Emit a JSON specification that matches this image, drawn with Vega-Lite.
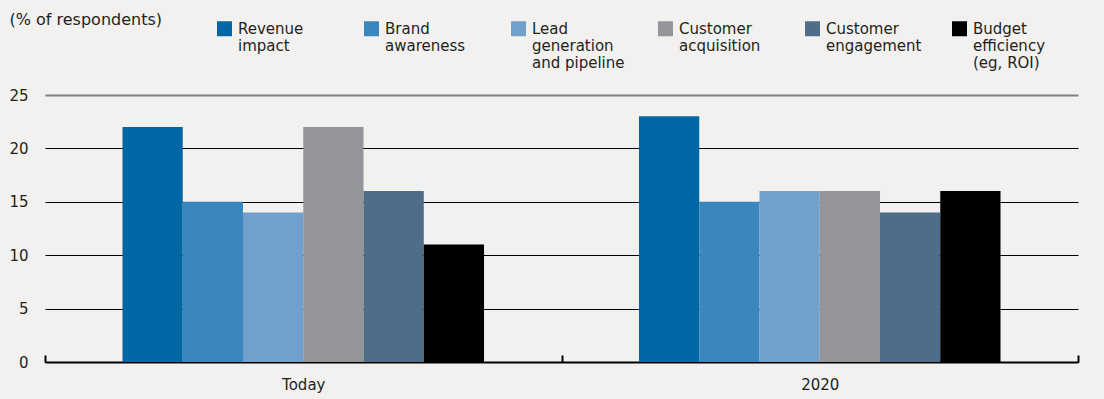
{
  "$schema": "https://vega.github.io/schema/vega-lite/v6.json",
  "width": 1033,
  "height": 267,
  "autosize": {"type": "none"},
  "padding": {"left": 45, "top": 95, "right": 26, "bottom": 37},
  "background": "#f2f1ef",
  "config": {
    "view": {"stroke": null},
    "font": "DejaVu Sans",
    "axis": {"labelFont": "DejaVu Sans", "titleFont": "DejaVu Sans"},
    "legend": {"labelFont": "DejaVu Sans"}
  },
  "data": {
    "values": [
      {"period": "Today", "metric": "Revenue impact", "value": 22},
      {"period": "Today", "metric": "Brand awareness", "value": 15},
      {"period": "Today", "metric": "Lead generation and pipeline", "value": 14},
      {"period": "Today", "metric": "Customer acquisition", "value": 22},
      {"period": "Today", "metric": "Customer engagement", "value": 16},
      {"period": "Today", "metric": "Budget efficiency (eg, ROI)", "value": 11},
      {"period": "2020", "metric": "Revenue impact", "value": 23},
      {"period": "2020", "metric": "Brand awareness", "value": 15},
      {"period": "2020", "metric": "Lead generation and pipeline", "value": 16},
      {"period": "2020", "metric": "Customer acquisition", "value": 16},
      {"period": "2020", "metric": "Customer engagement", "value": 14},
      {"period": "2020", "metric": "Budget efficiency (eg, ROI)", "value": 16}
    ]
  },
  "resolve": {"scale": {"x": "independent"}},
  "layer": [
    {
      "mark": {"type": "bar"},
      "encoding": {
        "x": {
          "field": "period",
          "type": "nominal",
          "sort": ["Today", "2020"],
          "scale": {"paddingInner": 0.3, "paddingOuter": 0.15},
          "axis": null
        },
        "xOffset": {
          "field": "metric",
          "type": "nominal",
          "sort": ["Revenue impact", "Brand awareness", "Lead generation and pipeline", "Customer acquisition", "Customer engagement", "Budget efficiency (eg, ROI)"],
          "scale": {"paddingInner": 0, "paddingOuter": 0}
        },
        "y": {
          "field": "value",
          "type": "quantitative",
          "scale": {"domain": [0, 25], "nice": false},
          "axis": {
            "values": [0, 5, 10, 15, 20, 25],
            "title": "(% of respondents)",
            "titleAngle": 0,
            "titleAlign": "left",
            "titleBaseline": "top",
            "titleX": -36,
            "titleY": -84,
            "titleFontSize": 16,
            "titleFontWeight": "normal",
            "titleColor": "#231f20",
            "labelFontSize": 15,
            "labelColor": "#231f20",
            "labelPadding": 17,
            "domain": false,
            "ticks": false,
            "grid": true,
            "gridColor": {"condition": {"test": "datum.value == 25", "value": "#7f7f7f"}, "value": "black"},
            "gridWidth": {"condition": {"test": "datum.value == 25", "value": 2}, "value": 1},
            "gridOpacity": 1
          }
        },
        "color": {
          "field": "metric",
          "type": "nominal",
          "scale": {
            "domain": ["Revenue impact", "Brand awareness", "Lead generation and pipeline", "Customer acquisition", "Customer engagement", "Budget efficiency (eg, ROI)"],
            "range": ["#0067a5", "#3a87bd", "#70a0cb", "#939598", "#4d6d88", "#000000"]
          },
          "legend": {
            "title": null,
            "orient": "none",
            "legendX": 172,
            "legendY": -74,
            "direction": "horizontal",
            "columns": 6,
            "gridAlign": "all",
            "columnPadding": 30,
            "symbolType": "square",
            "symbolSize": 225,
            "symbolStrokeWidth": 0,
            "symbolOpacity": 1,
            "labelFontSize": 15,
            "labelColor": "#231f20",
            "labelBaseline": "middle",
            "labelOffset": 6,
            "labelLimit": 200,
            "labelExpr": "{'Revenue impact': ['Revenue', 'impact', ''], 'Brand awareness': ['Brand', 'awareness', ''], 'Lead generation and pipeline': ['Lead', 'generation', 'and pipeline'], 'Customer acquisition': ['Customer', 'acquisition', ''], 'Customer engagement': ['Customer', 'engagement', ''], 'Budget efficiency (eg, ROI)': ['Budget', 'efficiency', '(eg, ROI)']}[datum.label]"
          }
        }
      }
    },
    {
      "mark": {"type": "rule", "opacity": 0},
      "encoding": {
        "x": {
          "field": "period",
          "type": "nominal",
          "sort": ["Today", "2020"],
          "scale": {"paddingInner": 0, "paddingOuter": 0},
          "axis": {
            "title": null,
            "orient": "bottom",
            "labelAngle": 0,
            "labelFontSize": 15,
            "labelColor": "#231f20",
            "labelPadding": 22,
            "labelBaseline": "top",
            "domainColor": "black",
            "domainWidth": 2,
            "tickBand": "extent",
            "tickColor": "black",
            "tickWidth": 2,
            "tickSize": -7
          }
        },
        "y": {"datum": 0, "type": "quantitative", "scale": {"domain": [0, 25], "nice": false}}
      }
    }
  ]
}
